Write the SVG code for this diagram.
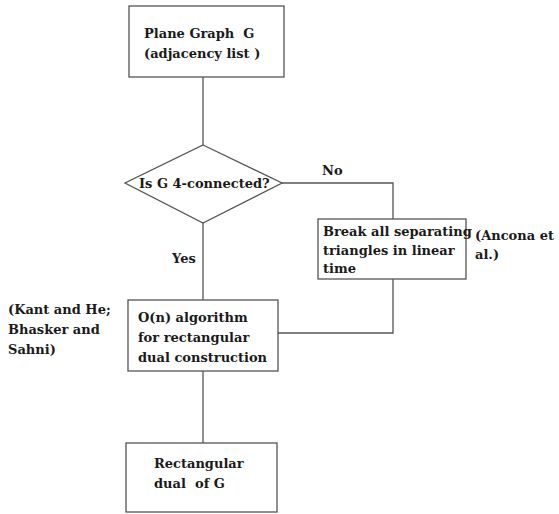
<svg xmlns="http://www.w3.org/2000/svg" width="559" height="514" viewBox="0 0 559 514">
<style>
.box{fill:#fff;stroke:#555;stroke-width:1.3}
.ln{fill:none;stroke:#555;stroke-width:1.3}
text{font-family:"DejaVu Serif",serif;font-size:13px;font-weight:bold;fill:#1a1a1a;white-space:pre}
</style>
<rect width="559" height="514" fill="#fff"/>
<g id="connectors">
<line class="ln" x1="203" y1="77" x2="203" y2="145"/>
<polyline class="ln" points="282,183 393,183 393,219"/>
<polyline class="ln" points="393,279 393,333 278,333"/>
<line class="ln" x1="203" y1="223" x2="203" y2="300"/>
<line class="ln" x1="203" y1="371" x2="203" y2="443"/>
<text x="322" y="175">No</text>
<text x="172" y="263">Yes</text>
</g>
<g id="plane-graph">
<rect class="box" x="129" y="6" width="155" height="71"/>
<text x="144" y="38">Plane Graph  G</text>
<text x="144" y="58">(adjacency list )</text>
</g>
<g id="decision">
<polygon class="box" points="203,145 282,183 203,223 125,183"/>
<text x="139" y="188">Is G 4-connected?</text>
</g>
<g id="break">
<rect class="box" x="318" y="219" width="148" height="60"/>
<text x="323" y="236">Break all separating</text>
<text x="323" y="255">triangles in linear</text>
<text x="323" y="273">time</text>
</g>
<g id="ancona">
<text x="475" y="240">(Ancona et</text>
<text x="475" y="259">al.)</text>
</g>
<g id="algorithm">
<rect class="box" x="128" y="300" width="150" height="71"/>
<text x="138" y="322">O(n) algorithm</text>
<text x="138" y="342">for rectangular</text>
<text x="138" y="362">dual construction</text>
</g>
<g id="kant">
<text x="8" y="314">(Kant and He;</text>
<text x="8" y="334">Bhasker and</text>
<text x="8" y="354">Sahni)</text>
</g>
<g id="result">
<rect class="box" x="126" y="443" width="151" height="69"/>
<text x="154" y="468">Rectangular</text>
<text x="154" y="488">dual  of G</text>
</g>
</svg>
